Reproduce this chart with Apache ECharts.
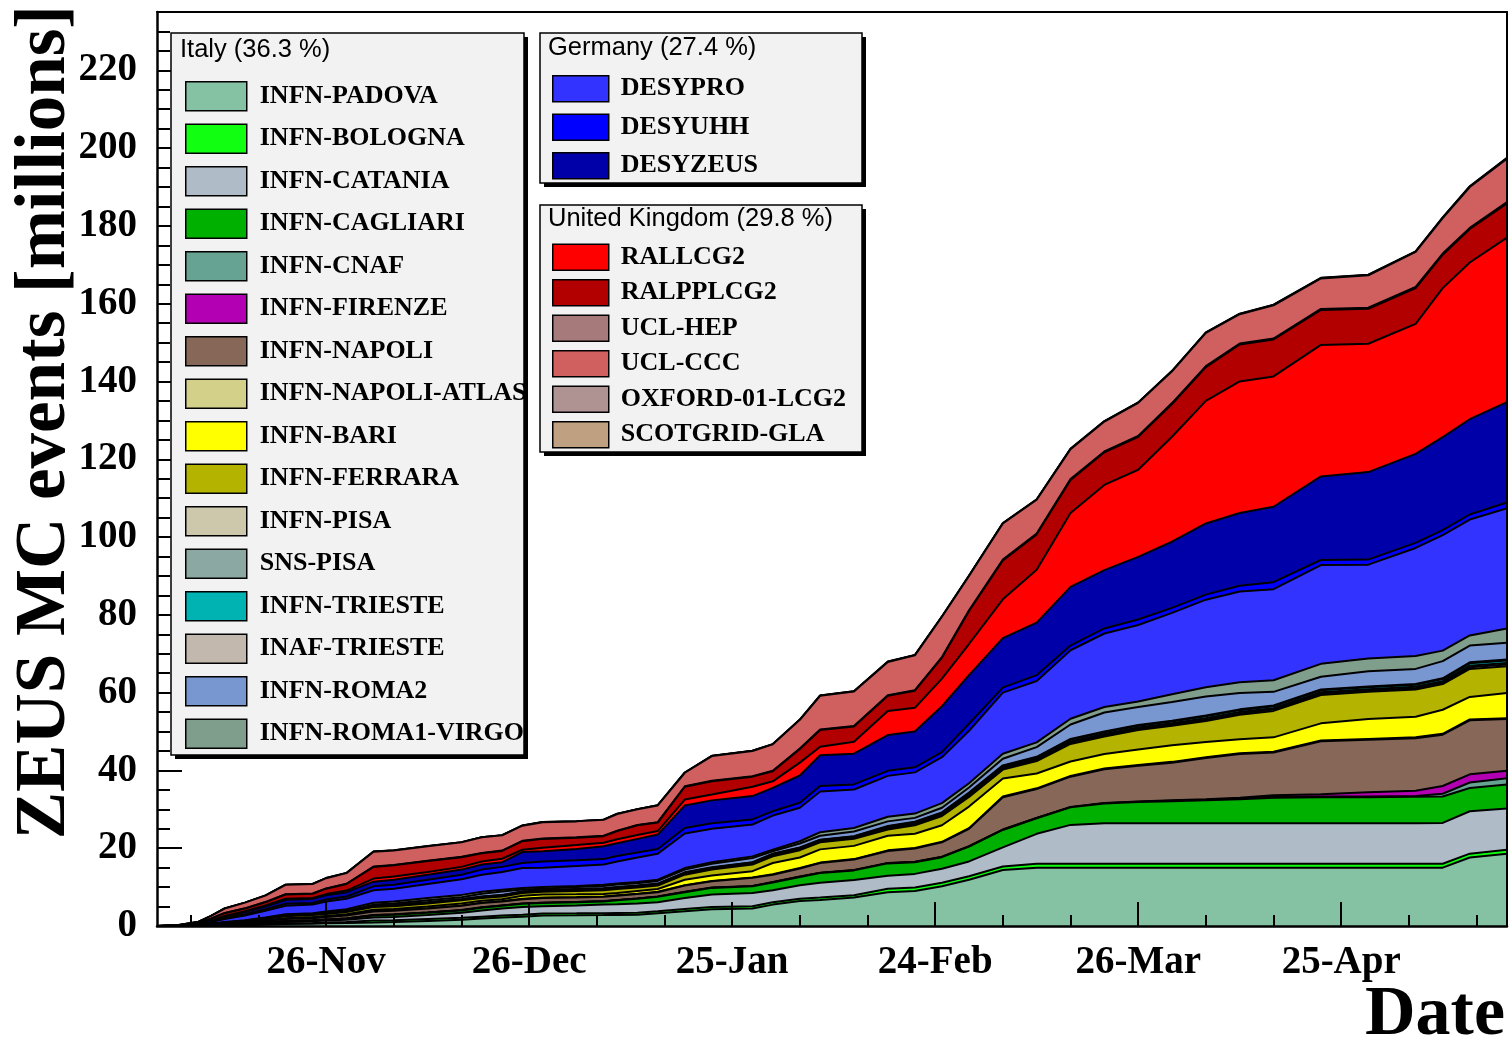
<!DOCTYPE html>
<html>
<head>
<meta charset="utf-8">
<script src="https://cdn.jsdelivr.net/npm/echarts@6/dist/echarts.min.js"></script>
<style>
html,body{margin:0;padding:0;background:#fff;}
#chart{width:1512px;height:1045px;}
</style>
</head>
<body>
<div id="chart"></div>
<script>
// ---------------- DATA ----------------
const dates = ['2005-11-01','2005-11-04','2005-11-07','2005-11-09','2005-11-11','2005-11-14','2005-11-17','2005-11-20','2005-11-24','2005-11-26',
  '2005-11-29','2005-12-03','2005-12-06','2005-12-11','2005-12-16','2005-12-19','2005-12-22','2005-12-25','2005-12-28','2006-01-02',
  '2006-01-06','2006-01-08','2006-01-11','2006-01-14','2006-01-18','2006-01-22','2006-01-28','2006-01-31','2006-02-04','2006-02-07',
  '2006-02-12','2006-02-17','2006-02-21','2006-02-25','2006-03-01','2006-03-06','2006-03-11','2006-03-16','2006-03-21','2006-03-26',
  '2006-03-31','2006-04-05','2006-04-10','2006-04-15','2006-04-22','2006-04-29','2006-05-06','2006-05-10','2006-05-14','2006-05-19 12:00'];

// stacked upper edge (millions) of the wide layers, as seen in the picture
const topPADOVA = [0,0,0.05,0.1,0.15,0.2,0.35,0.5,0.6,0.7, 0.8,0.9,1.0,1.3,1.6,1.9,2.2,2.4,2.7,2.75, 2.8,2.85,2.9,3.3,3.8,4.3,4.5,5.5,6.4,6.7, 7.3,8.7,9.0,10.2,11.9,14.4,15.0,15.0,15.0,15.0, 15.0,15.0,15.0,15.0,15.0,15.0,15.0,15.0,17.6,18.6];
const topBOLOGNA = [0,0,0.1,0.15,0.2,0.3,0.5,0.7,0.8,0.9, 1.0,1.4,1.5,1.8,2.1,2.4,2.7,2.9,3.2,3.25, 3.3,3.35,3.4,3.8,4.4,4.9,5.1,6.1,7.0,7.3, 7.9,9.6,9.9,11.1,12.8,15.3,16.0,16.0,16.0,16.0, 16.0,16.0,16.0,16.0,16.0,16.0,16.0,16.0,18.6,19.6];
const topCATANIA = [0,0,0.1,0.2,0.3,0.5,0.75,1.0,1.2,1.4, 1.6,2.2,2.3,2.8,3.4,4.0,4.5,4.9,5.1,5.3, 5.5,5.6,5.8,6.1,7.2,8.1,8.5,9.2,10.5,11.1, 11.8,12.9,13.4,14.7,16.6,20.2,23.7,26.0,26.4,26.4, 26.4,26.4,26.4,26.4,26.4,26.4,26.4,26.5,29.5,30.2];
const topCAGLIARI = [0,0,0.15,0.25,0.4,0.65,0.9,1.2,1.4,1.6, 1.9,2.7,2.9,3.4,4.0,4.7,5.2,5.7,5.9,6.1, 6.3,6.6,7.0,7.5,8.7,9.8,10.2,11.2,12.6,13.6, 14.3,16.1,16.4,17.7,20.4,24.7,27.7,30.5,31.5,31.9, 32.1,32.3,32.6,33.0,33.1,33.1,33.2,33.3,35.5,36.4];
const topFIRENZE = [0,0,0.15,0.3,0.45,0.7,0.95,1.25,1.45,1.65, 1.95,2.8,3.0,3.5,4.1,4.8,5.3,5.8,6.0,6.2, 6.4,6.7,7.1,7.6,8.8,9.9,10.3,11.3,12.7,13.7, 14.4,16.2,16.5,17.8,20.5,24.8,27.8,30.6,31.6,32.0, 32.3,32.6,33.0,33.6,33.9,34.4,34.8,36.0,39.0,39.9];
const topNAPOLI = [0,0,0.2,0.4,0.6,0.9,1.3,1.8,2.0,2.3, 2.7,3.7,3.9,4.5,5.2,5.9,6.3,6.9,7.2,7.35, 7.5,7.8,8.2,8.7,10.4,11.5,12.4,13.2,14.8,16.2, 17.1,19.3,19.9,21.5,25.0,33.1,35.2,38.4,40.3,41.2, 42.0,43.2,44.2,44.6,47.5,47.9,48.3,49.2,52.9,53.2];
const topBARI = [0,0,0.2,0.45,0.7,1.0,1.5,2.0,2.3,2.6, 3.0,4.2,4.4,5.0,5.8,6.5,6.9,7.8,8.1,8.15, 8.2,8.5,9.0,9.5,11.9,13.0,14.1,16.2,17.6,19.7, 20.6,23.2,23.7,25.9,30.7,37.9,39.2,42.3,44.2,45.4, 46.5,47.3,48.0,48.5,52.1,53.2,53.8,55.6,58.9,59.9];
const topFERRARA = [0,0,0.25,0.5,0.8,1.2,1.8,2.5,2.8,3.1, 3.6,4.9,5.1,5.8,6.6,7.2,7.6,8.5,8.8,9.0, 9.2,9.5,9.9,10.4,13.2,14.5,15.8,17.9,19.5,21.5, 22.4,24.8,25.9,28.3,33.2,40.2,42.4,46.8,48.7,50.4, 51.5,52.7,54.3,55.3,59.4,60.2,60.8,62.2,66.1,66.8];
const topROMA2 = [0,0,0.3,0.55,0.9,1.35,2.0,2.8,3.1,3.4, 3.9,5.5,5.8,6.6,7.4,8.3,8.9,9.4,9.6,10.0, 10.3,10.7,11.0,11.6,14.5,16.0,17.5,19.2,21.2,23.2, 24.3,26.9,27.8,30.4,35.6,43.0,46.0,51.8,54.9,56.3, 57.6,59.0,59.9,60.2,64.1,65.5,66.1,68.1,72.1,72.8];
const topROMA1 = [0,0,0.3,0.6,1.0,1.5,2.2,3.0,3.3,3.7, 4.3,6.0,6.3,7.2,8.0,8.8,9.3,9.8,10.0,10.3, 10.6,10.9,11.3,11.9,14.9,16.4,17.9,19.6,21.8,24.1, 25.2,28.1,28.9,31.6,36.7,44.3,47.2,53.3,56.3,57.7, 59.6,61.4,62.7,63.2,67.4,68.8,69.4,70.8,74.7,76.5];
const topDESYPRO = [0,0.1,0.45,1.0,1.8,2.7,3.9,5.2,5.5,6.3, 7.0,9.2,9.6,10.8,12.0,13.2,13.9,14.9,15.0,15.4, 15.8,16.6,17.6,18.6,23.8,25.0,26.1,28.4,30.4,34.6, 35.1,38.6,39.5,43.4,50.2,60.0,63.0,70.9,75.2,77.4, 80.5,83.9,86.0,86.6,92.8,92.9,97.2,100.5,104.5,107.4];
const topDESYUHH = [0,0.1,0.55,1.2,2.1,3.0,4.3,5.7,5.9,6.8, 7.6,10.2,10.6,11.9,13.2,14.5,15.2,16.2,16.6,16.9, 17.2,18.0,18.9,19.8,25.2,26.4,27.4,29.5,31.7,36.0, 36.4,39.9,40.8,44.7,52.0,61.3,64.5,72.1,76.5,78.8, 81.8,85.2,87.5,88.4,94.1,94.2,98.5,101.8,105.8,108.9];
const topDESYZEUS = [0,0.1,0.6,1.35,2.4,3.6,5.0,6.7,7.0,7.9, 8.7,11.4,11.9,13.2,14.5,15.8,16.4,19.0,19.2,19.8, 20.5,21.3,22.4,23.5,31.0,32.3,33.4,35.5,38.7,43.9, 44.3,49.1,50.0,56.5,64.5,74.0,78.0,87.2,91.5,94.9, 98.8,103.5,106.2,107.8,115.6,116.7,121.4,125.7,130.3,134.7];
const topRALLCG2 = [0,0.1,0.7,1.5,2.6,3.8,5.3,7.0,7.2,8.2, 9.1,12.2,12.7,13.9,15.2,16.6,17.3,19.6,20.1,20.8, 21.4,22.3,23.4,24.4,32.5,33.8,35.8,37.2,42.0,46.1, 47.4,55.3,56.1,63.6,72.5,84.0,91.6,106.2,113.4,117.3, 125.8,135.0,140.0,141.3,149.4,149.7,154.8,164.0,170.6,177.0];
const topRALPPLCG2 = [0,0.15,0.8,1.9,3.3,4.5,6.1,8.1,8.3,9.6, 10.8,15.2,15.6,16.7,17.7,18.7,19.3,21.8,22.4,22.7, 23.1,24.4,25.9,26.6,35.8,37.2,38.4,39.8,45.5,50.4, 51.3,59.2,60.5,69.0,81.0,94.0,100.7,114.7,121.8,125.8, 134.2,143.7,149.5,150.8,158.4,158.7,164.0,172.6,179.2,185.8];
const topUCLCCC = [0,0.2,1.0,2.6,4.5,6.0,7.8,10.6,10.8,12.3, 13.6,19.1,19.4,20.5,21.5,22.8,23.3,25.8,26.7,26.9, 27.3,28.8,30.0,31.0,39.4,43.7,45.0,46.7,53.0,59.2, 60.3,67.9,69.6,79.5,90.0,103.5,109.6,122.6,129.7,134.5, 142.6,152.5,157.3,159.6,166.5,167.3,173.3,182.0,190.0,197.3];

// own size (millions) of the thin layers
const valCNAF = [0,0,0,0.02,0.02,0.03,0.03,0.03,0.03,0.03, 0.03,0.05,0.05,0.05,0.05,0.05,0.05,0.05,0.05,0.05, 0.05,0.05,0.05,0.05,0.05,0.05,0.05,0.05,0.05,0.05, 0.05,0.05,0.05,0.05,0.05,0.05,0.05,0.05,0.05,0.05, 0.1,0.1,0.15,0.2,0.2,0.2,0.2,0.7,1.4,1.6];
const valNAPOLIATLAS = [0,0,0,0.02,0.02,0.03,0.03,0.05,0.05,0.05, 0.05,0.08,0.08,0.08,0.08,0.1,0.1,0.1,0.1,0.1, 0.1,0.1,0.1,0.1,0.1,0.1,0.1,0.1,0.1,0.1, 0.1,0.15,0.15,0.15,0.15,0.2,0.2,0.2,0.2,0.2, 0.2,0.2,0.2,0.2,0.2,0.2,0.2,0.2,0.2,0.2];
const valPISA = [0,0,0.005,0.01,0.01,0.02,0.03,0.04,0.04,0.04, 0.04,0.08,0.08,0.08,0.08,0.1,0.1,0.1,0.1,0.12, 0.12,0.12,0.12,0.12,0.15,0.15,0.15,0.18,0.18,0.18, 0.18,0.22,0.22,0.22,0.28,0.28,0.28,0.32,0.32,0.32, 0.32,0.35,0.35,0.35,0.35,0.35,0.35,0.38,0.42,0.42];
const valSNSPISA = [0,0,0.005,0.01,0.01,0.02,0.02,0.03,0.03,0.03, 0.03,0.07,0.07,0.07,0.07,0.1,0.1,0.1,0.1,0.13, 0.13,0.13,0.13,0.13,0.15,0.15,0.15,0.17,0.17,0.17, 0.17,0.22,0.22,0.22,0.27,0.27,0.27,0.33,0.33,0.33, 0.33,0.35,0.35,0.35,0.35,0.35,0.35,0.37,0.4,0.4];
const valTRIESTE = [0,0,0.005,0.01,0.02,0.03,0.04,0.05,0.05,0.05, 0.05,0.1,0.1,0.1,0.1,0.14,0.14,0.14,0.14,0.17, 0.17,0.17,0.17,0.17,0.2,0.2,0.2,0.25,0.25,0.25, 0.25,0.32,0.32,0.32,0.38,0.38,0.38,0.45,0.45,0.45, 0.45,0.5,0.5,0.5,0.5,0.5,0.5,0.53,0.62,0.62];
const valINAFTRIESTE = [0,0,0.005,0.005,0.01,0.01,0.01,0.03,0.03,0.03, 0.03,0.05,0.05,0.05,0.05,0.06,0.06,0.06,0.06,0.08, 0.08,0.08,0.08,0.08,0.1,0.1,0.1,0.1,0.1,0.1, 0.1,0.14,0.14,0.14,0.17,0.17,0.17,0.2,0.2,0.2, 0.2,0.2,0.2,0.2,0.2,0.2,0.2,0.22,0.26,0.26];
const valUCLHEP = [0,0,0.01,0.02,0.03,0.04,0.05,0.06,0.06,0.06, 0.06,0.08,0.08,0.08,0.08,0.1,0.1,0.1,0.1,0.1, 0.1,0.1,0.1,0.1,0.12,0.12,0.12,0.12,0.15,0.15, 0.15,0.15,0.15,0.15,0.2,0.2,0.2,0.2,0.2,0.2, 0.25,0.25,0.25,0.25,0.25,0.25,0.3,0.3,0.3,0.3];
const valOXFORD = [0,0,0,0,0.01,0.01,0.02,0.02,0.02,0.02, 0.02,0.03,0.03,0.03,0.03,0.03,0.03,0.03,0.03,0.03, 0.03,0.03,0.03,0.03,0.04,0.04,0.04,0.04,0.05,0.05, 0.05,0.05,0.05,0.05,0.06,0.06,0.06,0.07,0.07,0.07, 0.08,0.08,0.08,0.08,0.1,0.1,0.1,0.1,0.12,0.12];
const valSCOTGRID = [0,0,0,0,0,0.01,0.01,0.01,0.01,0.01, 0.01,0.02,0.02,0.02,0.02,0.02,0.02,0.02,0.02,0.02, 0.02,0.02,0.02,0.02,0.03,0.03,0.03,0.03,0.03,0.03, 0.03,0.04,0.04,0.04,0.04,0.05,0.05,0.05,0.05,0.05, 0.06,0.06,0.06,0.06,0.07,0.07,0.07,0.08,0.08,0.08];

const italySites = ['INFN-PADOVA','INFN-BOLOGNA','INFN-CATANIA','INFN-CAGLIARI','INFN-CNAF','INFN-FIRENZE','INFN-NAPOLI','INFN-NAPOLI-ATLAS','INFN-BARI','INFN-FERRARA','INFN-PISA','SNS-PISA','INFN-TRIESTE','INAF-TRIESTE','INFN-ROMA2','INFN-ROMA1-VIRGO'];
const germanySites = ['DESYPRO','DESYUHH','DESYZEUS'];
const ukSites = ['RALLCG2','RALPPLCG2','UCL-HEP','UCL-CCC','OXFORD-01-LCG2','SCOTGRID-GLA'];
const countryTitles = ['Italy (36.3 %)','Germany (27.4 %)','United Kingdom (29.8 %)'];
const xTickDates = ['2005-11-26','2005-12-26','2006-01-25','2006-02-24','2006-03-26','2006-04-25'];
const xTickLabels = ['26-Nov','26-Dec','25-Jan','24-Feb','26-Mar','25-Apr'];
const xMinorTickDates = ['2005-11-06','2005-11-16','2005-12-06','2005-12-16','2006-01-05','2006-01-15','2006-02-04','2006-02-14','2006-03-06','2006-03-16','2006-04-05','2006-04-15','2006-05-05','2006-05-15'];
const yMajorTicks = [0,20,40,60,80,100,120,140,160,180,200,220];
const yMinorTicks = [5,10,15,25,30,35,45,50,55,65,70,75,85,90,95,105,110,115,125,130,135,145,150,155,165,170,175,185,190,195,205,210,215,225,230];
const xStartDate = '2005-11-01', xEndDate = '2006-05-19 12:00';

// site inputs in stacking order (bottom -> top)
const siteInputs = [
  ['top', topPADOVA], ['top', topBOLOGNA], ['top', topCATANIA], ['top', topCAGLIARI],
  ['own', valCNAF], ['top', topFIRENZE], ['top', topNAPOLI], ['own', valNAPOLIATLAS],
  ['top', topBARI], ['top', topFERRARA], ['own', valPISA], ['own', valSNSPISA],
  ['own', valTRIESTE], ['own', valINAFTRIESTE], ['top', topROMA2], ['top', topROMA1],
  ['top', topDESYPRO], ['top', topDESYUHH], ['top', topDESYZEUS],
  ['top', topRALLCG2], ['top', topRALPPLCG2], ['own', valUCLHEP], ['top', topUCLCCC],
  ['own', valOXFORD], ['own', valSCOTGRID]
];

// ---------------- STYLES ----------------
const siteColors = ['#85c1a3','#11ff11','#afbbc7','#00b000','#66a393','#b300b3','#866758','#d3d08a','#ffff00','#b3b300','#cdc8ac','#8ca8a2','#00b3b3','#c2b8ad','#7896d0','#809e8c',
  '#3333ff','#0000ff','#0000a8',
  '#ff0000','#b20000','#a67a7a','#d06060','#af9393','#bfa080'];

const allSites = italySites.concat(germanySites, ukSites);
const colorOf = {};
allSites.forEach((n, i) => colorOf[n] = siteColors[i]);

// date string -> days since the first date (x coordinate of a value axis)
function dayNum(s) {
  const parts = s.split(' ');
  const ymd = parts[0].split('-').map(Number);
  let ms = Date.UTC(ymd[0], ymd[1] - 1, ymd[2]);
  if (parts[1]) { const hm = parts[1].split(':').map(Number); ms += (hm[0] * 60 + hm[1]) * 60000; }
  const p0 = xStartDate.split('-').map(Number);
  return (ms - Date.UTC(p0[0], p0[1] - 1, p0[2])) / 86400000;
}
const xDays = dates.map(dayNum);
const xMajor = xTickDates.map(dayNum);
const xMinor = xMinorTickDates.map(dayNum);
const xMax = dayNum(xEndDate);
const labelOfDay = {};
xMajor.forEach((d, i) => labelOfDay[d] = xTickLabels[i]);

// per-site values derived from the read levels, and their running (stacked) sums
let running = dates.map(() => 0);
const stackedTops = siteInputs.map(([kind, arr]) => {
  const vals = dates.map((_, j) => {
    const v = kind === 'top' ? Math.max(0, arr[j] - running[j]) : arr[j];
    return Math.round(v * 1000) / 1000;
  });
  running = running.map((r, j) => Math.round((r + vals[j]) * 1000) / 1000);
  return running.slice();
});

// each layer is drawn from the axis up to its stacked top; lower layers are drawn over upper ones
const N = allSites.length;
const series = allSites.map((name, i) => ({
  name: name,
  type: 'line',
  symbol: 'none',
  silent: true,
  z: 3 + (N - i),
  data: xDays.map((d, j) => [d, stackedTops[i][j]]),
  lineStyle: { color: '#000', width: 2 },
  itemStyle: { color: siteColors[i] },
  areaStyle: { color: siteColors[i], opacity: 1 }
}));

const serif = '"Liberation Serif", "Times New Roman", serif';
const sans = '"Liberation Sans", Arial, sans-serif';
const yMax = 235;

function tv(v) { return (v !== null && typeof v === 'object') ? v.value : v; }

function legendFor(names, left, top, w, h, gap, pad) {
  return {
    orient: 'vertical', left: left, top: top, padding: 0,
    itemWidth: w, itemHeight: h, itemGap: gap, icon: 'rect',
    selectedMode: false, z: 300,
    itemStyle: { borderColor: '#000', borderWidth: 1.5 },
    textStyle: { fontFamily: serif, fontWeight: 'bold', fontSize: 26, color: '#000', lineHeight: 24, padding: [0, 0, 0, pad] },
    data: names.map(n => ({ name: n, icon: 'rect', itemStyle: { color: colorOf[n], borderColor: '#000', borderWidth: 1.5 } }))
  };
}

function box(x, y, w, h) {
  return [
    { type: 'rect', z: 200, silent: true, shape: { x: x + 4, y: y + 4, width: w, height: h }, style: { fill: '#000' } },
    { type: 'rect', z: 201, silent: true, shape: { x: x, y: y, width: w, height: h }, style: { fill: '#f2f2f2', stroke: '#000', lineWidth: 1.5 } }
  ];
}

const chart = echarts.init(document.getElementById('chart'), null, { renderer: 'canvas' });
chart.setOption({
  animation: false,
  backgroundColor: '#fff',
  grid: { left: 157, right: 5, top: 12, bottom: 119, outerBoundsMode: 'none', containLabel: false },
  xAxis: [
    { type: 'value', min: 0, max: xMax, position: 'bottom', z: 100,
      axisLine: { onZero: false, lineStyle: { color: '#000', width: 2.5 } },
      axisTick: { inside: true, length: 24, customValues: xMajor, lineStyle: { color: '#000', width: 2 } },
      axisLabel: { customValues: xMajor, margin: 17, color: '#000', fontFamily: serif, fontWeight: 'bold', fontSize: 39,
        formatter: v => labelOfDay[tv(v)] || '' },
      splitLine: { show: false } },
    { type: 'value', min: 0, max: xMax, position: 'bottom', z: 100,
      axisLine: { show: false, onZero: false },
      axisTick: { inside: true, length: 11, customValues: xMinor, lineStyle: { color: '#000', width: 2 } },
      axisLabel: { show: false }, splitLine: { show: false } },
    { type: 'value', min: 0, max: xMax, position: 'top', z: 100,
      axisLine: { onZero: false, lineStyle: { color: '#000', width: 2 } },
      axisTick: { show: false }, axisLabel: { show: false }, splitLine: { show: false } }
  ],
  yAxis: [
    { type: 'value', min: 0, max: yMax, interval: 20, position: 'left', z: 100,
      axisLine: { show: true, onZero: false, lineStyle: { color: '#000', width: 2.5 } },
      axisTick: { show: true, inside: true, length: 25, customValues: yMajorTicks, lineStyle: { color: '#000', width: 2 } },
      axisLabel: { customValues: yMajorTicks, margin: 20, color: '#000', fontFamily: serif, fontWeight: 'bold', fontSize: 39,
        formatter: v => String(tv(v)) },
      splitLine: { show: false } },
    { type: 'value', min: 0, max: yMax, position: 'left', z: 100,
      axisLine: { show: false, onZero: false },
      axisTick: { show: true, inside: true, length: 13, customValues: yMinorTicks, lineStyle: { color: '#000', width: 2 } },
      axisLabel: { show: false }, splitLine: { show: false } },
    { type: 'value', min: 0, max: yMax, position: 'right', z: 100,
      axisLine: { show: true, onZero: false, lineStyle: { color: '#000', width: 2 } },
      axisTick: { show: false }, axisLabel: { show: false }, splitLine: { show: false } }
  ],
  legend: [
    legendFor(italySites, 185, 81, 61, 29, 12.0, 8),
    legendFor(germanySites, 552, 75, 56, 26, 11.0, 7),
    legendFor(ukSites, 552, 243.5, 56, 26, 8.0, 7)
  ],
  graphic: [].concat(
    box(171, 33, 353, 722),
    box(540, 33, 322, 150),
    box(540, 205, 322, 247),
    [
      { type: 'text', z: 202, silent: true, x: 180, y: 50, style: { text: countryTitles[0], font: '25.5px ' + sans, fill: '#000', verticalAlign: 'middle' } },
      { type: 'text', z: 202, silent: true, x: 548, y: 48, style: { text: countryTitles[1], font: '25.5px ' + sans, fill: '#000', verticalAlign: 'middle' } },
      { type: 'text', z: 202, silent: true, x: 548, y: 219, style: { text: countryTitles[2], font: '25.5px ' + sans, fill: '#000', verticalAlign: 'middle' } },
      { type: 'text', z: 202, silent: true, x: 46, y: 5, rotation: Math.PI / 2, style: { text: 'ZEUS MC events [millions]', font: 'bold 71px ' + serif, fill: '#000', align: 'right', verticalAlign: 'middle' } },
      { type: 'text', z: 202, silent: true, x: 1505, y: 1016, style: { text: 'Date', font: 'bold 70px ' + serif, fill: '#000', align: 'right', verticalAlign: 'middle' } }
    ]
  ),
  series: series
});
</script>
</body>
</html>
